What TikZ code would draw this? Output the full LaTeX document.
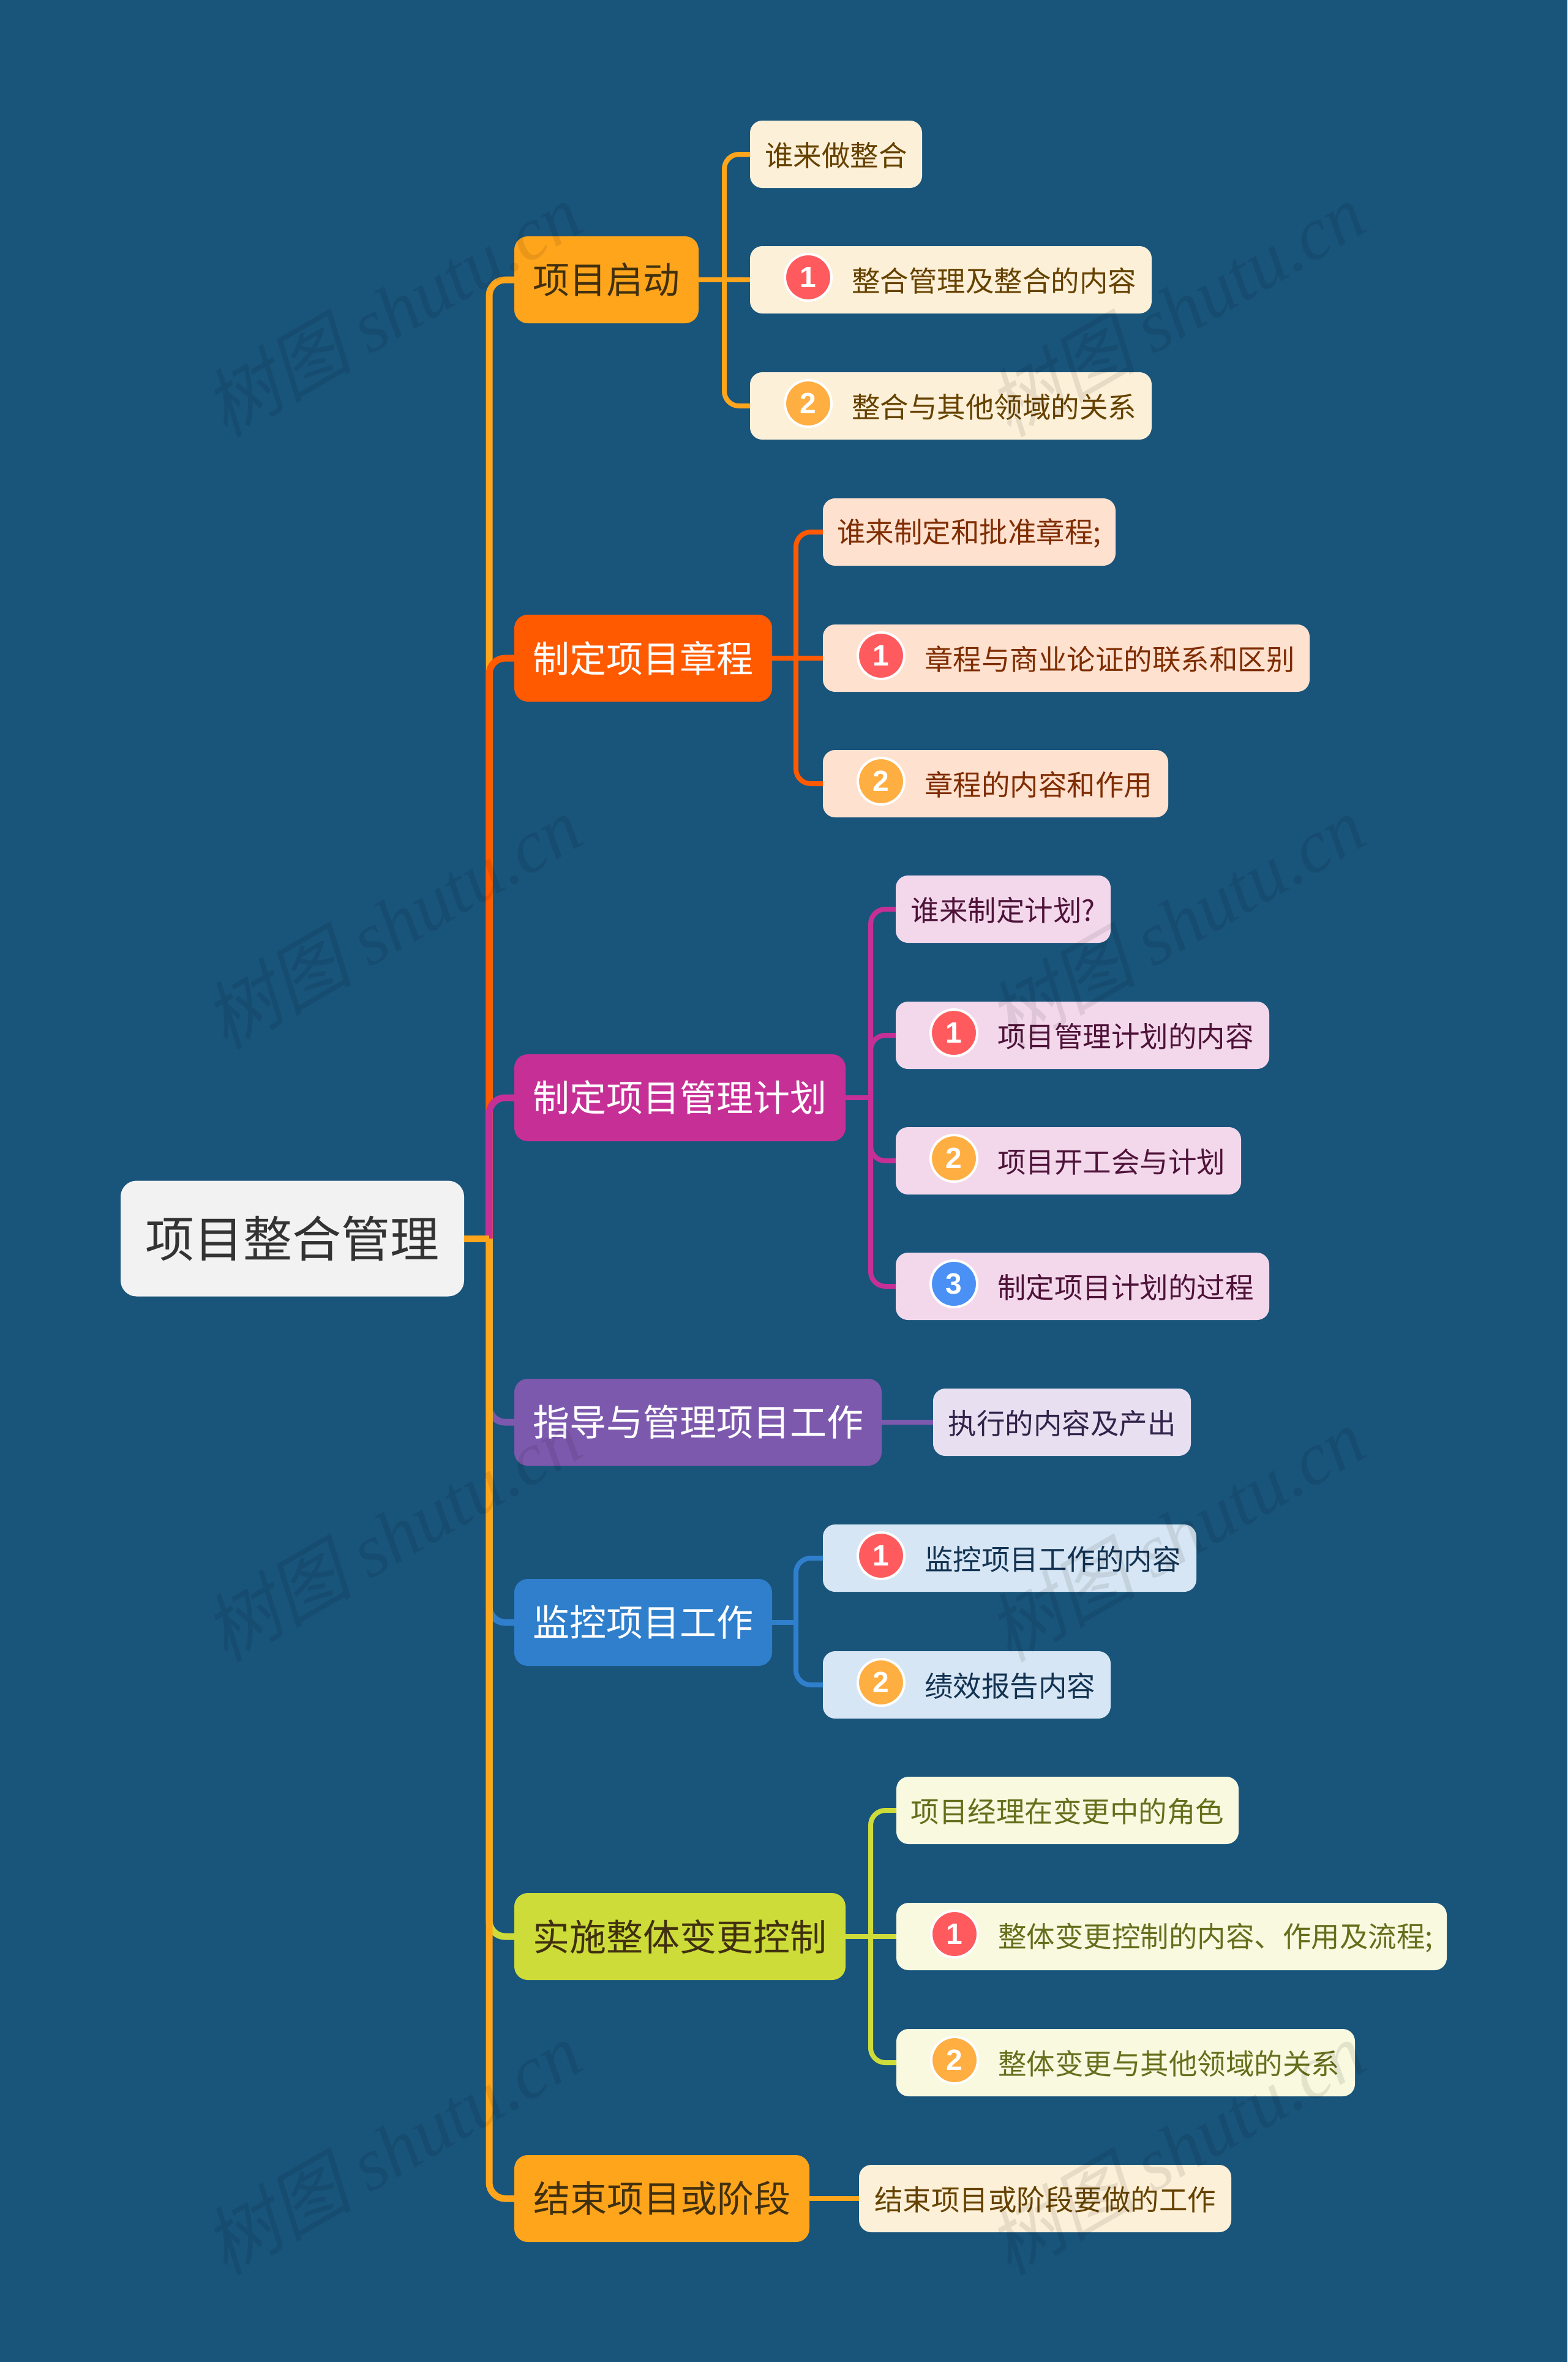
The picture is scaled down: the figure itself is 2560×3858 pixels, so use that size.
\documentclass[tikz,border=0pt]{standalone}
\usepackage{fontspec}
\setmainfont{Noto Sans CJK SC}
\newfontfamily\wmcjk[FakeSlant=0.22]{Noto Sans CJK SC}
\newfontfamily\wmlat{Liberation Serif}[ItalicFont=Liberation Serif Italic]
\newfontfamily\numfont{Liberation Sans}
\usetikzlibrary{calc}
\definecolor{bgc}{HTML}{19547B}
\definecolor{cA}{HTML}{FFA51C}\definecolor{cB}{HTML}{FF5A00}\definecolor{cC}{HTML}{C63096}
\definecolor{cD}{HTML}{7D59AE}\definecolor{cE}{HTML}{2F7FCC}\definecolor{cF}{HTML}{CDDC39}
\definecolor{fA}{HTML}{FDF0D8}\definecolor{fB}{HTML}{FFE1D0}\definecolor{fC}{HTML}{F3D8EC}
\definecolor{fD}{HTML}{E8E0F1}\definecolor{fE}{HTML}{D7E6F4}\definecolor{fF}{HTML}{F8F9DF}
\definecolor{tA}{HTML}{664200}\definecolor{tB}{HTML}{7F2D00}\definecolor{tC}{HTML}{4F1339}
\definecolor{tD}{HTML}{32234A}\definecolor{tE}{HTML}{133352}\definecolor{tF}{HTML}{666E1C}
\definecolor{darkA}{HTML}{40300F}
\definecolor{rootf}{HTML}{F2F2F2}\definecolor{roott}{HTML}{333333}
\definecolor{icA}{HTML}{FF5B5E}\definecolor{icB}{HTML}{FFAE42}\definecolor{icC}{HTML}{4A90F5}
\tikzset{
  x=1pt,y=-1pt,
  rootbox/.style={rectangle,rounded corners=26pt,fill=rootf,text=roott,inner sep=0pt,outer sep=0pt,anchor=west,minimum height=189pt,font=\fontsize{80}{90}\selectfont},
  mainbox/.style={rectangle,rounded corners=22pt,inner sep=0pt,outer sep=0pt,anchor=west,minimum height=142pt,font=\fontsize{60}{70}\selectfont},
  leafbox/.style={rectangle,rounded corners=20pt,inner sep=0pt,outer sep=0pt,anchor=west,minimum height=110pt,font=\fontsize{46.5}{56}\selectfont},
  leaftext/.style={inner sep=0pt,outer sep=0pt,anchor=west,font=\fontsize{46.5}{56}\selectfont},
  numicon/.style={circle,draw=white,line width=4pt,inner sep=0pt,minimum size=76pt,text=white,font=\numfont\bfseries\fontsize{48}{50}\selectfont},
  trunk/.style={line width=11pt,rounded corners=26pt},
  branch/.style={line width=8pt,rounded corners=24pt},
  stub/.style={line width=8pt},
  wm/.style={text=black,text opacity=0.085,rotate=30,inner sep=0pt,font=\fontsize{122}{130}\selectfont},
}
\newcommand{\lowered}[1]{\raisebox{-2.5pt}{#1}}
% name, colour letter, x, right, y, text
\newcommand{\leafplain}[6]{\node[leafbox,fill=f#2,text=t#2,minimum width={(#4-#3)*1pt}] (#1) at (#3,#5) {};
  \node[leaftext,text=t#2] (#1t) at ($(#1.center)+(0,2)$) [anchor=center] {#6};}
% name, colour letter, x, right, y, number, icon colour, text
\newcommand{\leafnum}[8]{%
  \node[leafbox,fill=f#2,minimum width={(#4-#3)*1pt}] (#1) at (#3,#5) {};
  \node[numicon,fill=#7] (#1i) at ($(#1.west)+(95,-4)$) {#6};
  \node[leaftext,text=t#2] (#1t) at ($(#1.west)+(166,2)$) {#8};}
\begin{document}
\begin{tikzpicture}
\useasboundingbox (0,0) rectangle (2560,3858);
\fill[bgc] (0,0) rectangle (2560,3858);

% root and main topics
\node[rootbox,minimum width=561pt] (root) at (197,2023) {项目整合管理};
\node[mainbox,fill=cA,text=darkA,minimum width=301pt] (a) at (840,457) {项目启动};
\node[mainbox,fill=cB,text=white,minimum width=421pt] (b) at (840,1075) {\lowered{制定项目章程}};
\node[mainbox,fill=cC,text=white,minimum width=541pt] (c) at (840,1793) {\lowered{制定项目管理计划}};
\node[mainbox,fill=cD,text=white,minimum width=600pt] (d) at (840,2323) {\lowered{指导与管理项目工作}};
\node[mainbox,fill=cE,text=white,minimum width=421pt] (e) at (840,2650) {监控项目工作};
\node[mainbox,fill=cF,text=darkA,minimum width=541pt] (f) at (840,3163) {实施整体变更控制};
\node[mainbox,fill=cA,text=darkA,minimum width=482pt] (g) at (840,3591) {结束项目或阶段};

% leaves
\leafplain{a1}{A}{1225}{1506}{252}{谁来做整合}
\leafnum{a2}{A}{1225}{1881}{457}{1}{icA}{整合管理及整合的内容}
\leafnum{a3}{A}{1225}{1881}{663}{2}{icB}{整合与其他领域的关系}

\leafplain{b1}{B}{1344}{1822}{869}{谁来制定和批准章程;}
\leafnum{b2}{B}{1344}{2139}{1075}{1}{icA}{章程与商业论证的联系和区别}
\leafnum{b3}{B}{1344}{1908}{1280}{2}{icB}{章程的内容和作用}

\leafplain{c1}{C}{1463}{1814}{1485}{谁来制定计划?}
\leafnum{c2}{C}{1463}{2073}{1691}{1}{icA}{项目管理计划的内容}
\leafnum{c3}{C}{1463}{2027}{1896}{2}{icB}{项目开工会与计划}
\leafnum{c4}{C}{1463}{2073}{2101}{3}{icC}{制定项目计划的过程}

\leafplain{d1}{D}{1524}{1945}{2323}{执行的内容及产出}

\leafnum{e1}{E}{1344}{1954}{2545}{1}{icA}{监控项目工作的内容}
\leafnum{e2}{E}{1344}{1814}{2752}{2}{icB}{绩效报告内容}

\leafplain{f1}{F}{1464}{2023}{2957}{项目经理在变更中的角色}
\leafnum{f2}{F}{1464}{2363}{3163}{1}{icA}{整体变更控制的内容、作用及流程;}
\leafnum{f3}{F}{1464}{2213}{3369}{2}{icB}{整体变更与其他领域的关系}

\leafplain{g1}{A}{1403}{2011}{3591}{结束项目或阶段要做的工作}

% connectors
\coordinate (tk) at (799,2023);
\coordinate (va) at (1183,457);
\coordinate (vb) at (1300,1075);
\coordinate (vc) at (1422,1793);
\coordinate (ve) at (1300,2650);
\coordinate (vf) at (1422,3163);

\draw[trunk,cA] (tk) |- (a.west);
\draw[trunk,cB] (tk) |- (b.west);
\draw[trunk,cC] (tk) |- (c.west);
\draw[trunk,cD] (tk) |- (d.west);
\draw[trunk,cE] (tk) |- (e.west);
\draw[trunk,cF] (tk) |- (f.west);
\draw[trunk,cA] (tk) |- (g.west);
\draw[line width=11pt,cA] (root.east) -- (tk);

\draw[stub,cA] (a.east) -- (a2.west);
\draw[branch,cA] (va) |- (a1.west);
\draw[branch,cA] (va) |- (a3.west);

\draw[stub,cB] (b.east) -- (b2.west);
\draw[branch,cB] (vb) |- (b1.west);
\draw[branch,cB] (vb) |- (b3.west);

\draw[stub,cC] (c.east) -- (vc);
\draw[branch,cC] (vc) |- (c1.west);
\draw[branch,cC] (vc) |- (c2.west);
\draw[branch,cC] (vc) |- (c3.west);
\draw[branch,cC] (vc) |- (c4.west);

\draw[stub,cD] (d.east) -- (d1.west);

\draw[stub,cE] (e.east) -- (ve);
\draw[branch,cE] (ve) |- (e1.west);
\draw[branch,cE] (ve) |- (e2.west);

\draw[stub,cF] (f.east) -- (f2.west);
\draw[branch,cF] (vf) |- (f1.west);
\draw[branch,cF] (vf) |- (f3.west);

\draw[stub,cA] (g.east) -- (g1.west);

% watermark
\foreach \wx in {640,1920}
  \foreach \wy in {505,1506,2506,3508}
    \node[wm] at (\wx,\wy) {{\wmcjk 树图} {\wmlat\itshape shutu.cn}};
\end{tikzpicture}
\end{document}
